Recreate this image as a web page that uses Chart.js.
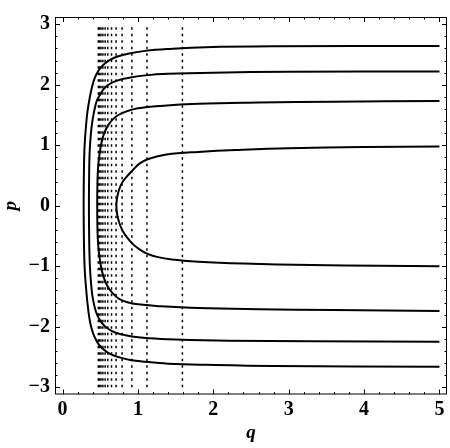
<!DOCTYPE html>
<html>
<head>
<meta charset="utf-8">
<script src="https://cdn.jsdelivr.net/npm/chart.js@4/dist/chart.umd.min.js"></script>
<style>
  body { margin: 0; background: #fff; }
  canvas { display: block; }
</style>
</head>
<body>
<canvas id="phase" width="450" height="448"></canvas>
<script>
// axis ticks
var qTicks = [0, 1, 2, 3, 4, 5];
var pTicks = [-3, -2, -1, 0, 1, 2, 3];

// solid curves (top right -> turning point -> bottom right)
var curve1Q = [5, 2.8, 1.9, 1.4, 1.1, 0.9, 0.74, 0.63, 0.55, 0.48, 0.43, 0.39, 0.36, 0.33, 0.31, 0.295, 0.287, 0.282, 0.28,
	0.282, 0.287, 0.295, 0.31, 0.33, 0.355, 0.385, 0.425, 0.48, 0.55, 0.63, 0.74, 0.9, 1.1, 1.4, 1.9, 2.8, 5];
var curve1P = [2.64, 2.635, 2.62, 2.59, 2.56, 2.52, 2.47, 2.41, 2.34, 2.24, 2.12, 1.96, 1.78, 1.55, 1.3, 1.05, 0.8, 0.4, 0,
	-0.4, -0.8, -1.07, -1.33, -1.6, -1.85, -2.03, -2.17, -2.29, -2.38, -2.45, -2.5, -2.55, -2.58, -2.61, -2.63, -2.65, -2.66];

var curve2Q = [5, 3, 2, 1.4, 1.1, 0.9, 0.75, 0.65, 0.56, 0.5, 0.45, 0.41, 0.385, 0.367, 0.357, 0.352, 0.35,
	0.352, 0.357, 0.365, 0.378, 0.4, 0.44, 0.49, 0.56, 0.65, 0.76, 0.92, 1.15, 1.5, 2.2, 3.3, 5];
var curve2P = [2.22, 2.215, 2.2, 2.18, 2.155, 2.12, 2.08, 2.03, 1.95, 1.84, 1.72, 1.5, 1.3, 1.05, 0.8, 0.4, 0,
	-0.4, -0.8, -1.05, -1.28, -1.52, -1.74, -1.88, -1.99, -2.07, -2.12, -2.16, -2.19, -2.21, -2.23, -2.24, -2.25];

var curve3Q = [5, 3.6, 2.6, 1.8, 1.3, 1.0, 0.85, 0.74, 0.66, 0.6, 0.56, 0.525, 0.49, 0.47, 0.462, 0.46,
	0.462, 0.47, 0.49, 0.525, 0.56, 0.6, 0.66, 0.74, 0.85, 1.0, 1.3, 1.8, 2.6, 3.6, 5];
var curve3P = [1.73, 1.72, 1.705, 1.685, 1.65, 1.61, 1.56, 1.5, 1.42, 1.32, 1.22, 1.09, 0.85, 0.6, 0.3, 0,
	-0.3, -0.6, -0.85, -1.09, -1.23, -1.34, -1.44, -1.53, -1.59, -1.63, -1.66, -1.69, -1.71, -1.725, -1.74];

var curve4Q = [5, 4, 3, 2.3, 1.8, 1.45, 1.25, 1.12, 1.025, 0.94, 0.865, 0.8, 0.76, 0.735, 0.72, 0.714,
	0.72, 0.735, 0.76, 0.8, 0.86, 0.93, 1.02, 1.12, 1.25, 1.45, 1.8, 2.4, 3.3, 4.2, 5];
var curve4P = [0.98, 0.97, 0.95, 0.92, 0.89, 0.86, 0.815, 0.765, 0.7, 0.6, 0.5, 0.4, 0.3, 0.2, 0.1, 0,
	-0.1, -0.2, -0.31, -0.42, -0.53, -0.63, -0.72, -0.79, -0.845, -0.89, -0.925, -0.955, -0.98, -0.99, -1.0];

// dotted verticals
var dotQ = [1.59, 1.12, 0.92, 0.79, 0.71, 0.65, 0.6, 0.565, 0.535, 0.51, 0.49, 0.475];
var dotP = [-3, 3];

function pts(qs, ps) {
	return qs.map(function(q, i) { return {x: q, y: ps[i]}; });
}

function fmt(v) {
	return v < 0 ? '\u2212' + Math.abs(v) : String(v);
}

var datasets = [];
dotQ.forEach(function(q) {
	datasets.push({
		data: dotP.map(function(p) { return {x: q, y: p}; }),
		showLine: true,
		borderColor: '#000',
		borderWidth: 1.5,
		borderDash: [2.5, 4],
		pointRadius: 0
	});
});
[[curve1Q, curve1P], [curve2Q, curve2P], [curve3Q, curve3P], [curve4Q, curve4P]].forEach(function(c) {
	datasets.push({
		data: pts(c[0], c[1]),
		showLine: true,
		borderColor: '#000',
		borderWidth: 2,
		tension: 0.4,
		pointRadius: 0
	});
});

// frame with inward major/minor ticks, Mathematica style
var framePlugin = {
	id: 'frame',
	afterDatasetsDraw: function(chart) {
		var ctx = chart.ctx, a = chart.chartArea;
		var xs = chart.scales.x, ys = chart.scales.y;
		ctx.save();
		ctx.strokeStyle = '#000';
		ctx.lineWidth = 1;
		ctx.strokeRect(a.left + 0.5, a.top + 0.5, a.right - a.left - 1, a.bottom - a.top - 1);
		var i, v, px, len;
		ctx.beginPath();
		for (i = 0; i <= 25; i++) {
			v = i * 0.2;
			len = (i % 5 === 0) ? 5 : 2.5;
			px = Math.round(xs.getPixelForValue(v)) + 0.5;
			ctx.moveTo(px, a.bottom); ctx.lineTo(px, a.bottom - len);
			ctx.moveTo(px, a.top); ctx.lineTo(px, a.top + len);
		}
		for (i = 0; i <= 30; i++) {
			v = -3 + i * 0.2;
			len = (i % 5 === 0) ? 5 : 2.5;
			px = Math.round(ys.getPixelForValue(v)) + 0.5;
			ctx.moveTo(a.left, px); ctx.lineTo(a.left + len, px);
			ctx.moveTo(a.right, px); ctx.lineTo(a.right - len, px);
		}
		ctx.stroke();
		ctx.restore();
	}
};

var tickFont = {family: 'Liberation Serif', size: 20, weight: 'bold'};
var titleFont = {family: 'Liberation Serif', size: 19, weight: 'bold', style: 'italic'};

new Chart(document.getElementById('phase'), {
	type: 'scatter',
	data: {datasets: datasets},
	options: {
		responsive: false,
		animation: false,
		devicePixelRatio: 1,
		layout: {padding: {top: 2.5, right: 3, left: 0, bottom: 0}},
		plugins: {legend: {display: false}, tooltip: {enabled: false}},
		scales: {
			x: {
				type: 'linear',
				min: -0.1,
				max: 5.1,
				grid: {display: false, drawTicks: false},
				border: {display: false},
				afterBuildTicks: function(s) { s.ticks = qTicks.map(function(v) { return {value: v}; }); },
				afterFit: function(s) { s.height = 53.5; },
				ticks: {color: '#000', font: tickFont, padding: 3, maxRotation: 0, callback: function(v) { return fmt(v); }},
				title: {display: true, text: 'q', color: '#000', font: titleFont, padding: {top: 0, bottom: 4}}
			},
			y: {
				type: 'linear',
				min: -3.12,
				max: 3.12,
				grid: {display: false, drawTicks: false},
				border: {display: false},
				afterBuildTicks: function(s) { s.ticks = pTicks.map(function(v) { return {value: v}; }); },
				afterFit: function(s) { s.width = 55; },
				ticks: {color: '#000', font: tickFont, padding: 5, callback: function(v) { return fmt(v); }},
				title: {display: true, text: 'p', color: '#000', font: titleFont, padding: {top: 0, bottom: 0}}
			}
		}
	},
	plugins: [framePlugin]
});
</script>
</body>
</html>
